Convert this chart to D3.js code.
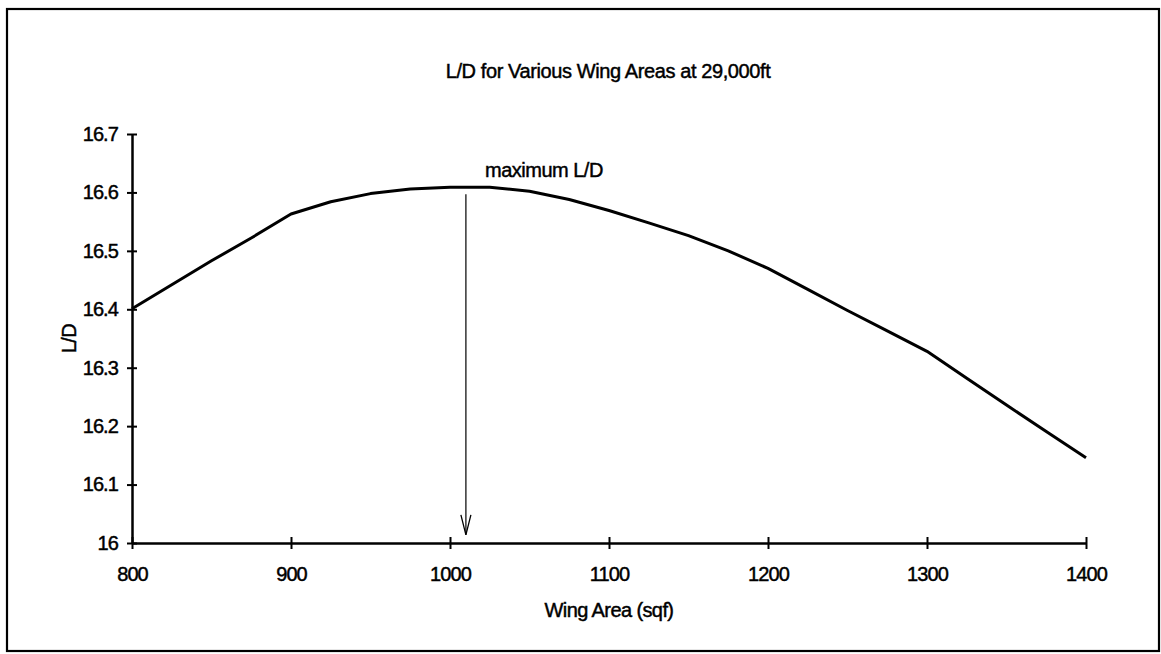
<!DOCTYPE html>
<html>
<head>
<meta charset="utf-8">
<script src="https://cdn.jsdelivr.net/npm/d3@7"></script>
<style>
  html, body { margin: 0; padding: 0; background: #fff; }
  svg { display: block; }
  text { font-family: "Liberation Sans", Arial, sans-serif; fill: #000; stroke: #000; stroke-width: 0.45px; }
</style>
</head>
<body>
<svg id="chart" width="1161" height="654"></svg>
<script>
// ---- data ----
const wingAreas = [800, 825, 850, 875, 900, 925, 950, 975, 1000, 1025, 1050, 1075, 1100,
                   1125, 1150, 1175, 1200, 1225, 1250, 1275, 1300, 1325, 1350, 1375, 1400];
const liftToDrag = [16.401, 16.442, 16.483, 16.522, 16.563, 16.584, 16.598, 16.606, 16.609, 16.609, 16.602, 16.588, 16.569,
                    16.548, 16.526, 16.500, 16.470, 16.434, 16.398, 16.363, 16.328, 16.282, 16.236, 16.191, 16.146];
const xTicks = [800, 900, 1000, 1100, 1200, 1300, 1400];
const yTicks = [16, 16.1, 16.2, 16.3, 16.4, 16.5, 16.6, 16.7];
const titleText = "L/D for Various Wing Areas at 29,000ft";
const xLabel = "Wing Area (sqf)";
const yLabel = "L/D";
const annotationText = "maximum L/D";
const maxArea = [1010];              // arrow x position (wing area)
const arrowRange = [16.597, 16.014]; // arrow from / to (L/D)

// ---- layout ----
const svg = d3.select("#chart");
const pL = 132, pR = 1086, pT = 134, pB = 543;

const x = d3.scaleLinear().domain([800, 1400]).range([pL, pR]);
const y = d3.scaleLinear().domain([16, 16.7]).range([pB, pT]);

// outer border
svg.append("rect")
  .attr("x", 7).attr("y", 9).attr("width", 1152).attr("height", 642)
  .attr("fill", "none").attr("stroke", "#000").attr("stroke-width", 2.2);

// title
svg.append("text")
  .attr("x", (pL + pR) / 2 - 1).attr("y", 78)
  .attr("text-anchor", "middle")
  .attr("font-size", 20).attr("letter-spacing", -0.4)
  .text(titleText);

// axes
const fmtY = d => d === 16 ? "16" : d3.format(".1f")(d);
const yAxis = d3.axisLeft(y).tickValues(yTicks).tickFormat(fmtY).tickSizeInner(5).tickSizeOuter(0).tickPadding(9);
const xAxis = d3.axisBottom(x).tickValues(xTicks).tickFormat(d3.format("d")).tickSizeInner(6).tickSizeOuter(0).tickPadding(18);

const gy = svg.append("g").attr("transform", `translate(${pL},0)`).call(yAxis);
const gx = svg.append("g").attr("transform", `translate(0,${pB})`).call(xAxis);

[gx, gy].forEach(g => {
  g.select(".domain").attr("stroke", "#000").attr("stroke-width", 2.5);
  g.selectAll(".tick line").attr("stroke", "#000").attr("stroke-width", 2);
  g.selectAll(".tick text").attr("font-size", 20).attr("fill", "#000")
    .attr("font-family", "Liberation Sans, Arial, sans-serif").attr("letter-spacing", -0.9);
});
// ticks crossing the axis
gy.selectAll(".tick line").attr("x1", 5).attr("x2", -5);
gx.selectAll(".tick line").attr("y1", -6).attr("y2", 6);

// axis labels
svg.append("text")
  .attr("x", (pL + pR) / 2).attr("y", 617)
  .attr("text-anchor", "middle").attr("font-size", 20).attr("letter-spacing", -0.6)
  .text(xLabel);

svg.append("text")
  .attr("transform", `translate(76,${(pT + pB) / 2}) rotate(-90)`)
  .attr("text-anchor", "middle").attr("font-size", 20).attr("letter-spacing", -0.6)
  .text(yLabel);

// data line
const line = d3.line().x((d, i) => x(wingAreas[i])).y(d => y(d));
svg.append("path")
  .datum(liftToDrag)
  .attr("d", line)
  .attr("fill", "none").attr("stroke", "#000").attr("stroke-width", 3)
  .attr("stroke-linejoin", "round");

// annotation arrow
const ax = x(maxArea[0]);
const y0 = y(arrowRange[0]), y1 = y(arrowRange[1]);
svg.append("line")
  .attr("x1", ax).attr("x2", ax).attr("y1", y0).attr("y2", y1)
  .attr("stroke", "#000").attr("stroke-width", 1.2);
svg.append("path")
  .attr("d", `M${ax - 5},${y1 - 20} L${ax},${y1} L${ax + 5},${y1 - 20}`)
  .attr("fill", "none").attr("stroke", "#000").attr("stroke-width", 1.3);

svg.append("text")
  .attr("x", 485).attr("y", 177)
  .attr("font-size", 20).attr("letter-spacing", -0.5)
  .text(annotationText);
</script>
</body>
</html>
